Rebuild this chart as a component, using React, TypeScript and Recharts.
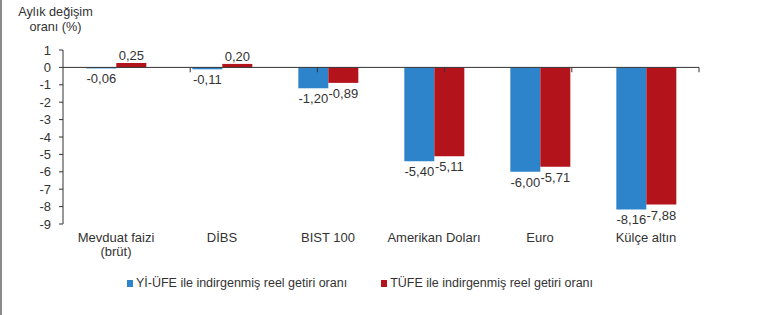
import React from 'react';
import { BarChart, Bar, XAxis, YAxis, ReferenceLine, LabelList } from 'recharts';

const categories = ['Mevduat faizi\n(brüt)', 'DİBS', 'BIST 100', 'Amerikan Doları', 'Euro', 'Külçe altın'];
const yiUfe = [-0.06, -0.11, -1.2, -5.4, -6.0, -8.16];
const tufe = [0.25, 0.2, -0.89, -5.11, -5.71, -7.88];
const yTicks = [1, 0, -1, -2, -3, -4, -5, -6, -7, -8, -9];
const seriesNames = ['Yİ-ÜFE ile indirgenmiş reel getiri oranı', 'TÜFE ile indirgenmiş reel getiri oranı'];
const boundaryTicks = [1, 2, 3, 4, 5, 6];

const BLUE = '#2D84CA';
const RED = '#B3141C';
const FONT = 'Liberation Sans, Arial, sans-serif';

const data = categories.map((name, i) => ({ name, yi: yiUfe[i], tu: tufe[i] }));

const fmt = (v: number) => v.toFixed(2).replace('.', ',');

const BarLabel = (props: any) => {
  const { x, y, width, height, value } = props;
  const top = Math.min(y, y + height);
  const bottom = Math.max(y, y + height);
  const cx = x + width / 2;
  const ty = value >= 0 ? top - 3 : bottom + 15;
  return (
    <text x={cx} y={ty} textAnchor="middle" fontSize={13} fill="#333" fontFamily={FONT}>
      {fmt(value)}
    </text>
  );
};

const XTick = (props: any) => {
  const { x, y, payload } = props;
  const lines = String(payload.value).split('\n');
  return (
    <g>
      {lines.map((l, i) => (
        <text key={i} x={x} y={y + 10 + i * 14} textAnchor="middle" fontSize={13} fill="#333" fontFamily={FONT}>
          {l}
        </text>
      ))}
    </g>
  );
};

const LegendBox = () => (
  <div
    style={{
      position: 'absolute',
      left: 60,
      top: 276,
      width: 600,
      display: 'flex',
      justifyContent: 'center',
      fontFamily: FONT,
      fontSize: 12.5,
      color: '#333',
    }}
  >
    {seriesNames.map((n, i) => (
      <div key={i} style={{ display: 'flex', alignItems: 'center', marginRight: i === 0 ? 34 : 0 }}>
        <span style={{ display: 'inline-block', width: 6, height: 7, background: i === 0 ? BLUE : RED, marginRight: 3 }} />
        <span>{n}</span>
      </div>
    ))}
  </div>
);

export default function App() {
  return (
    <div style={{ position: 'absolute', left: 0, top: 0, width: 757, height: 315, background: '#fff' }}>
      <div style={{ position: 'absolute', left: 0, top: 0, width: 2, height: 315, background: '#8a8a8a' }} />
      <div
        style={{
          position: 'absolute',
          left: 8,
          top: 5,
          width: 95,
          textAlign: 'center',
          fontFamily: FONT,
          fontSize: 12.7,
          lineHeight: '15px',
          color: '#333',
        }}
      >
        Aylık değişim
        <br />
        oranı (%)
      </div>
      <BarChart
        width={757}
        height={315}
        data={data}
        margin={{ top: 50, right: 58, left: 0, bottom: 61 }}
        barCategoryGap="22%"
        barGap={0}
      >
        <XAxis dataKey="name" axisLine={false} tickLine={false} tick={<XTick />} interval={0} height={30} />
        <XAxis xAxisId="num" type="number" domain={[0, 6]} hide />
        <YAxis
          width={63}
          domain={[-9, 1]}
          ticks={yTicks}
          interval={0}
          tickFormatter={(v: number) => String(v)}
          tick={{ fontSize: 13, fill: '#333', fontFamily: FONT }}
          axisLine={{ stroke: '#333' }}
          tickLine={{ stroke: '#333' }}
          tickSize={4}
          tickMargin={8}
        />
        <Bar dataKey="yi" fill={BLUE} isAnimationActive={false} name={seriesNames[0]}>
          <LabelList dataKey="yi" content={<BarLabel />} />
        </Bar>
        <Bar dataKey="tu" fill={RED} isAnimationActive={false} name={seriesNames[1]}>
          <LabelList dataKey="tu" content={<BarLabel />} />
        </Bar>
        <ReferenceLine y={0} stroke="#333" strokeWidth={1} />
        {boundaryTicks.map((b) => (
          <ReferenceLine
            key={b}
            xAxisId="num"
            segment={[
              { x: b, y: 0 },
              { x: b, y: -0.28 },
            ]}
            stroke="#333"
          />
        ))}
      </BarChart>
      <LegendBox />
    </div>
  );
}
